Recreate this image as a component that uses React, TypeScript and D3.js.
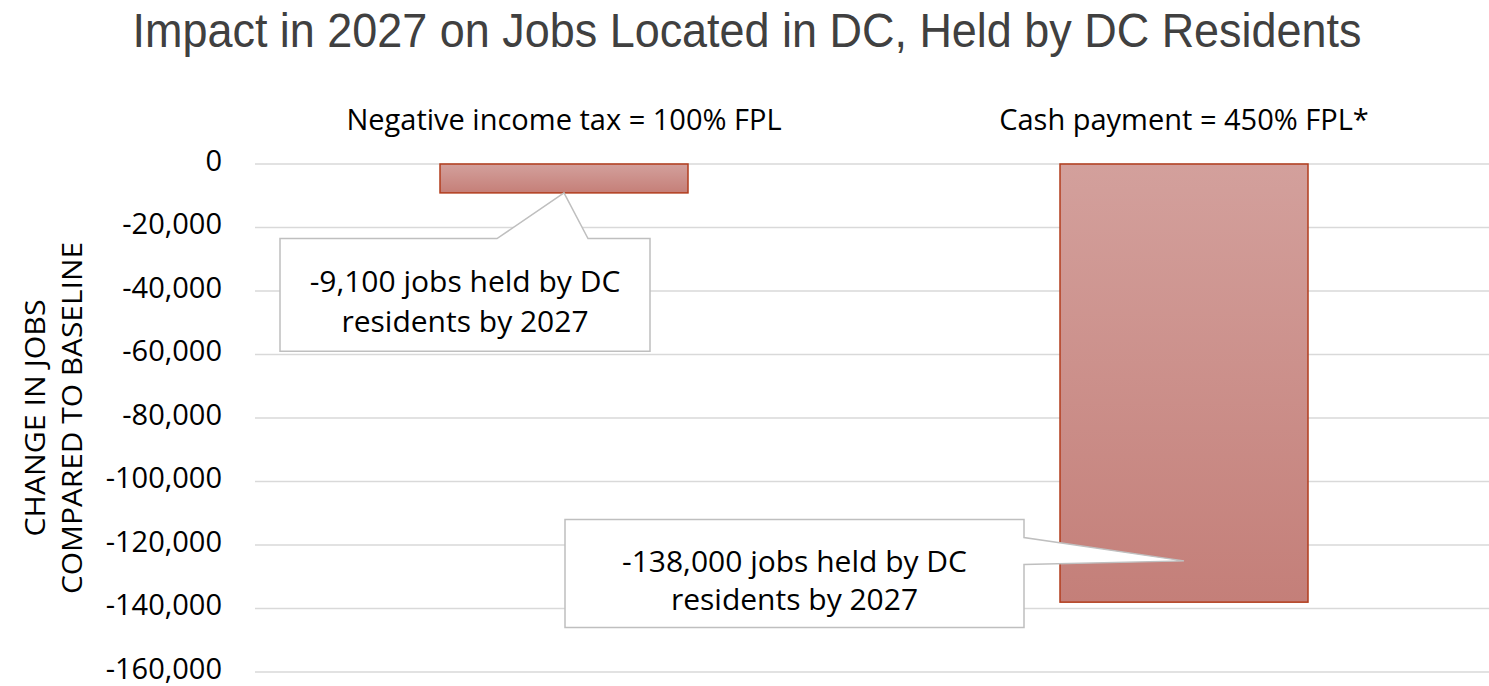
import React from 'react'
import * as d3 from 'd3'

// scenarios and their 2027 job impact
const CATEGORIES = ['Negative income tax = 100% FPL', 'Cash payment = 450% FPL*']
const JOBS_CHANGE = [-9100, -138000]
const Y_TICKS = [0, -20000, -40000, -60000, -80000, -100000, -120000, -140000, -160000]
const CALLOUT_LINES = [
  ['-9,100 jobs held by DC', 'residents by 2027'],
  ['-138,000 jobs held by DC', 'residents by 2027'],
]
// value where each callout pointer touches the bar
const CALLOUT_ANCHOR = [-9100, -125000]

const W = 1489
const H = 686
const FONT = '"Open Sans", "Liberation Sans", sans-serif'

export default function App() {
  const x = d3.scaleBand<string>()
    .domain(CATEGORIES)
    .range([254, 1494])
    .paddingInner(0.6)
    .paddingOuter(0.3)

  const y = d3.scaleLinear()
    .domain([0, -160000])
    .range([164, 672])

  const fmt = d3.format(',')

  // callout boxes, relative to the bar they point at
  const box1 = { x0: 280, x1: 650, y0: y(-23500), y1: y(-59000) }
  const box2 = { x0: 565, x1: 1024, y0: y(-112000), y1: y(-146000) }

  const c0 = x(CATEGORIES[0])! + x.bandwidth() / 2
  const c1 = x(CATEGORIES[1])! + x.bandwidth() / 2

  const tip1: [number, number] = [c0, y(CALLOUT_ANCHOR[0])]
  const tip2: [number, number] = [c1, y(CALLOUT_ANCHOR[1])]

  const path1 = [
    [box1.x0, box1.y0], [box1.x0 + 217, box1.y0], tip1, [box1.x0 + 308, box1.y0],
    [box1.x1, box1.y0], [box1.x1, box1.y1], [box1.x0, box1.y1],
  ]
  const path2 = [
    [box2.x0, box2.y0], [box2.x1, box2.y0], [box2.x1, box2.y0 + 18], tip2,
    [box2.x1, box2.y0 + 45], [box2.x1, box2.y1], [box2.x0, box2.y1],
  ]
  const line = d3.line().curve(d3.curveLinearClosed)

  return (
    <svg width={W} height={H} style={{ position: 'absolute', left: 0, top: 0, background: '#fff' }}>
      <defs>
        <linearGradient id="barFill" x1="0" y1="0" x2="0" y2="1">
          <stop offset="0%" stopColor="#d3a09c" />
          <stop offset="100%" stopColor="#c47f79" />
        </linearGradient>
        <linearGradient id="barFillSmall" x1="0" y1="0" x2="0" y2="1">
          <stop offset="0%" stopColor="#d3a09c" />
          <stop offset="100%" stopColor="#c57f78" />
        </linearGradient>
      </defs>

      <text x={747} y={47} textAnchor="middle" fontFamily='"Liberation Sans Narrow", "Liberation Sans", sans-serif'
        fontSize={48} fill="#404040" textLength={1229} lengthAdjust="spacingAndGlyphs">
        Impact in 2027 on Jobs Located in DC, Held by DC Residents
      </text>

      {/* gridlines */}
      {Y_TICKS.map(t => (
        <line key={t} x1={255} x2={W} y1={y(t)} y2={y(t)} stroke="#d9d9d9" strokeWidth={1.5} />
      ))}

      {/* tick labels */}
      {Y_TICKS.map(t => (
        <text key={t} x={222} y={y(t)} dy="0.24em" textAnchor="end" fontFamily={FONT} fontSize={29} fill="#000">
          {fmt(t).replace('−', '-')}
        </text>
      ))}

      {/* axis title */}
      <g transform={`translate(54,${y(-80000)}) rotate(-90)`} fontFamily={FONT} fontSize={27} fill="#000" textAnchor="middle">
        <text x={0} y={-9} textLength={237} lengthAdjust="spacingAndGlyphs">CHANGE IN JOBS</text>
        <text x={0} y={28} textLength={352} lengthAdjust="spacingAndGlyphs">COMPARED TO BASELINE</text>
      </g>

      {/* category labels */}
      {CATEGORIES.map(c => (
        <text key={c} x={x(c)! + x.bandwidth() / 2} y={130} textAnchor="middle" fontFamily={FONT} fontSize={29} fill="#000">
          {c}
        </text>
      ))}

      {/* bars */}
      {CATEGORIES.map((c, i) => (
        <rect key={c} x={x(c)} y={y(0)} width={x.bandwidth()} height={y(JOBS_CHANGE[i]) - y(0)}
          fill={i === 0 ? 'url(#barFillSmall)' : 'url(#barFill)'} stroke="#b23c1c" strokeWidth={1.5} />
      ))}

      {/* callouts */}
      <path d={line(path1 as [number, number][])!} fill="#fff" stroke="#bfbfbf" strokeWidth={1.5} />
      <path d={line(path2 as [number, number][])!} fill="#fff" stroke="#bfbfbf" strokeWidth={1.5} />

      <g fontFamily={FONT} fontSize={30} fill="#000" textAnchor="middle">
        {CALLOUT_LINES[0].map((l, i) => (
          <text key={l} x={(box1.x0 + box1.x1) / 2} y={292 + i * 40}>{l}</text>
        ))}
        {CALLOUT_LINES[1].map((l, i) => (
          <text key={l} x={(box2.x0 + box2.x1) / 2} y={572 + i * 38}>{l}</text>
        ))}
      </g>
    </svg>
  )
}
